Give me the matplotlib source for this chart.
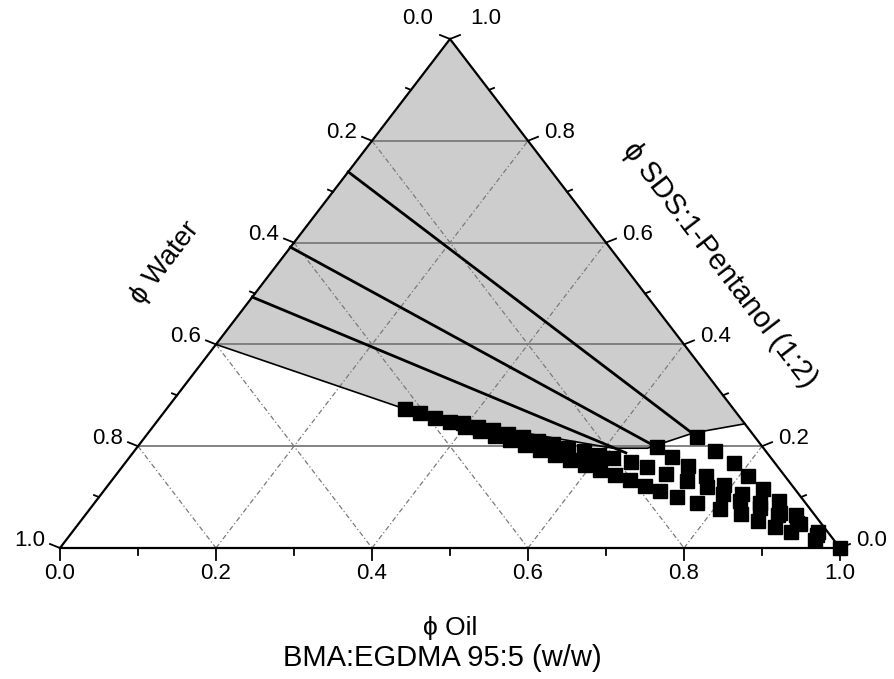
import matplotlib
matplotlib.use('Agg')
import matplotlib.pyplot as plt
import numpy as np

plt.rcParams['font.family'] = ['Liberation Sans', 'DejaVu Sans']

# compositions as volume fractions: (phi oil, phi surfactant); water = 1 - oil - surf
# binodal data, four runs
oil_1 = [0.306, 0.329, 0.353, 0.376, 0.400, 0.423, 0.448, 0.471, 0.495, 0.519, 0.543, 0.567, 0.591, 0.616,
         0.640, 0.664, 0.689, 0.713, 0.741, 0.773, 0.808, 0.839, 0.868, 0.896, 0.922, 0.960, 1.0]
surf_1 = [0.273, 0.265, 0.255, 0.248, 0.238, 0.230, 0.220, 0.212, 0.202, 0.193, 0.183, 0.173, 0.163, 0.153,
          0.143, 0.134, 0.122, 0.112, 0.100, 0.088, 0.077, 0.067, 0.053, 0.041, 0.031, 0.016, 0.0]
oil_2 = [0.394, 0.417, 0.439, 0.462, 0.485, 0.508, 0.530, 0.553, 0.576, 0.599, 0.621, 0.647, 0.673, 0.705,
         0.738, 0.770, 0.797, 0.826, 0.858, 0.888, 0.920, 0.958]
surf_2 = [0.246, 0.238, 0.232, 0.224, 0.218, 0.210, 0.204, 0.196, 0.191, 0.183, 0.177, 0.169, 0.159, 0.145,
          0.132, 0.120, 0.106, 0.092, 0.079, 0.065, 0.049, 0.026]
oil_3 = [0.708, 0.744, 0.780, 0.811, 0.843, 0.876, 0.911, 0.956]
surf_3 = [0.218, 0.191, 0.167, 0.141, 0.116, 0.092, 0.065, 0.031]
oil_4 = [0.666, 0.695, 0.725, 0.758, 0.789, 0.821, 0.853, 0.889, 0.925]
surf_4 = [0.198, 0.179, 0.161, 0.141, 0.124, 0.106, 0.088, 0.069, 0.047]

# tie lines: water-rich end on the oil-free edge, oil-rich end on the binodal
tie_left_surf = [0.739, 0.591, 0.493]
tie_right_oil = [0.708, 0.666, 0.632]
tie_right_surf = [0.218, 0.198, 0.187]

# boundary of the single phase (shaded) region
bound_oil = [0.0, 0.306, 0.432, 0.611, 0.655, 0.699, 0.756]
bound_surf = [0.40, 0.273, 0.238, 0.196, 0.196, 0.226, 0.244]

ticks = [0.0, 0.2, 0.4, 0.6, 0.8, 1.0]
minor = [0.1, 0.3, 0.5, 0.7, 0.9]
tick_labels = ['0.0', '0.2', '0.4', '0.6', '0.8', '1.0']


def xy(oil, surf):
    oil = np.asarray(oil, dtype=float)
    surf = np.asarray(surf, dtype=float)
    return oil + surf / 2, surf


W, H = 895, 679
X0, XW = 60, 780   # pixel of left corner, pixel width of triangle
Y0, YH = 548, 509  # pixel row of base, pixel height of triangle
px, py = 1 / XW, 1 / YH

fig = plt.figure(figsize=(W / 100, H / 100), dpi=100)
ax = fig.add_axes([0, 0, 1, 1])
ax.set_xlim(-X0 / XW, (W - X0) / XW)
ax.set_ylim((Y0 - H) / YH, Y0 / YH)
ax.axis('off')

# shaded region
fo = [0.0] + bound_oil + [0.0]
fs = [1.0] + bound_surf + [1.0]
fx, fy = xy(fo, fs)
ax.fill(fx, fy, color='#cdcdcd', lw=0, zorder=1)

# grid
grid_col = '#7a7a7a'
for v in ticks[1:-1]:
    x, y = xy([0, 1 - v], [v, v])
    ax.plot(x, y, color=grid_col, lw=1.3, zorder=2)
    x, y = xy([v, v], [0, 1 - v])
    ax.plot(x, y, color=grid_col, lw=0.9, ls=(0, (4, 2, 1, 2)), zorder=2)
    x, y = xy([0, 1 - v], [1 - v, 0])
    ax.plot(x, y, color=grid_col, lw=0.9, ls=(0, (4, 2, 1, 2)), zorder=2)

# tie lines and phase boundary
for s_l, o_r, s_r in zip(tie_left_surf, tie_right_oil, tie_right_surf):
    x, y = xy([0, o_r], [s_l, s_r])
    ax.plot(x, y, color='black', lw=2.0, zorder=3)
x, y = xy(bound_oil, bound_surf)
ax.plot(x, y, color='black', lw=1.2, zorder=3)

# binodal points
for o, s in [(oil_1, surf_1), (oil_2, surf_2), (oil_3, surf_3), (oil_4, surf_4)]:
    x, y = xy(o, s)
    ax.plot(x, y, 's', color='black', ms=10, mec='black', zorder=4, ls='none')

# triangle frame
x, y = xy([0, 1, 0, 0], [0, 0, 1, 0])
ax.plot(x, y, color='black', lw=1.6, zorder=5, solid_joinstyle='miter')

# ticks
for v in ticks + minor:
    ln = 12 if v in ticks else 7
    x, y = xy(v, 0)
    ax.plot([x, x], [y, y - ln * py], color='black', lw=1.3, zorder=5)
    ln = 10 if v in ticks else 5
    x, y = xy(0, 1 - v)
    ax.plot([x, x - ln * px], [y, y + 0.4 * ln * py], color='black', lw=1.3, zorder=5)
    x, y = xy(1 - v, v)
    ax.plot([x, x + ln * px], [y, y + 0.4 * ln * py], color='black', lw=1.3, zorder=5)

fs_tick = 16
for v, lab in zip(ticks, tick_labels):
    # bottom: oil
    x, y = xy(v, 0)
    ax.annotate(lab, (x, y), xytext=(0, -15), textcoords='offset pixels',
                ha='center', va='top', fontsize=fs_tick)
    # left: water
    x, y = xy(0, 1 - v)
    off = (-17, 20) if v == 0 else (-15, 8)
    ax.annotate(lab, (x, y), xytext=off, textcoords='offset pixels',
                ha='right', va='center', fontsize=fs_tick)
    # right: surfactant
    x, y = xy(1 - v, v)
    off = (20, 20) if v == 1 else (16, 8)
    ax.annotate(lab, (x, y), xytext=off, textcoords='offset pixels',
                ha='left', va='center', fontsize=fs_tick)

# axis titles
ang = np.degrees(np.arctan2(YH, XW / 2))
ax.text(0.5, -0.157, 'ϕ Oil', ha='center', va='center', fontsize=19)
ax.text(0.49, -0.216, 'BMA:EGDMA 95:5 (w/w)', ha='center', va='center', fontsize=21)
ax.text(0.135, 0.56, 'ϕ Water', ha='center', va='center', fontsize=20, rotation=ang,
        rotation_mode='anchor')
ax.text(0.846, 0.556, 'ϕ SDS:1-Pentanol (1:2)', ha='center', va='center', fontsize=21,
        rotation=-ang, rotation_mode='anchor')

fig.savefig('out.png', dpi=100)
